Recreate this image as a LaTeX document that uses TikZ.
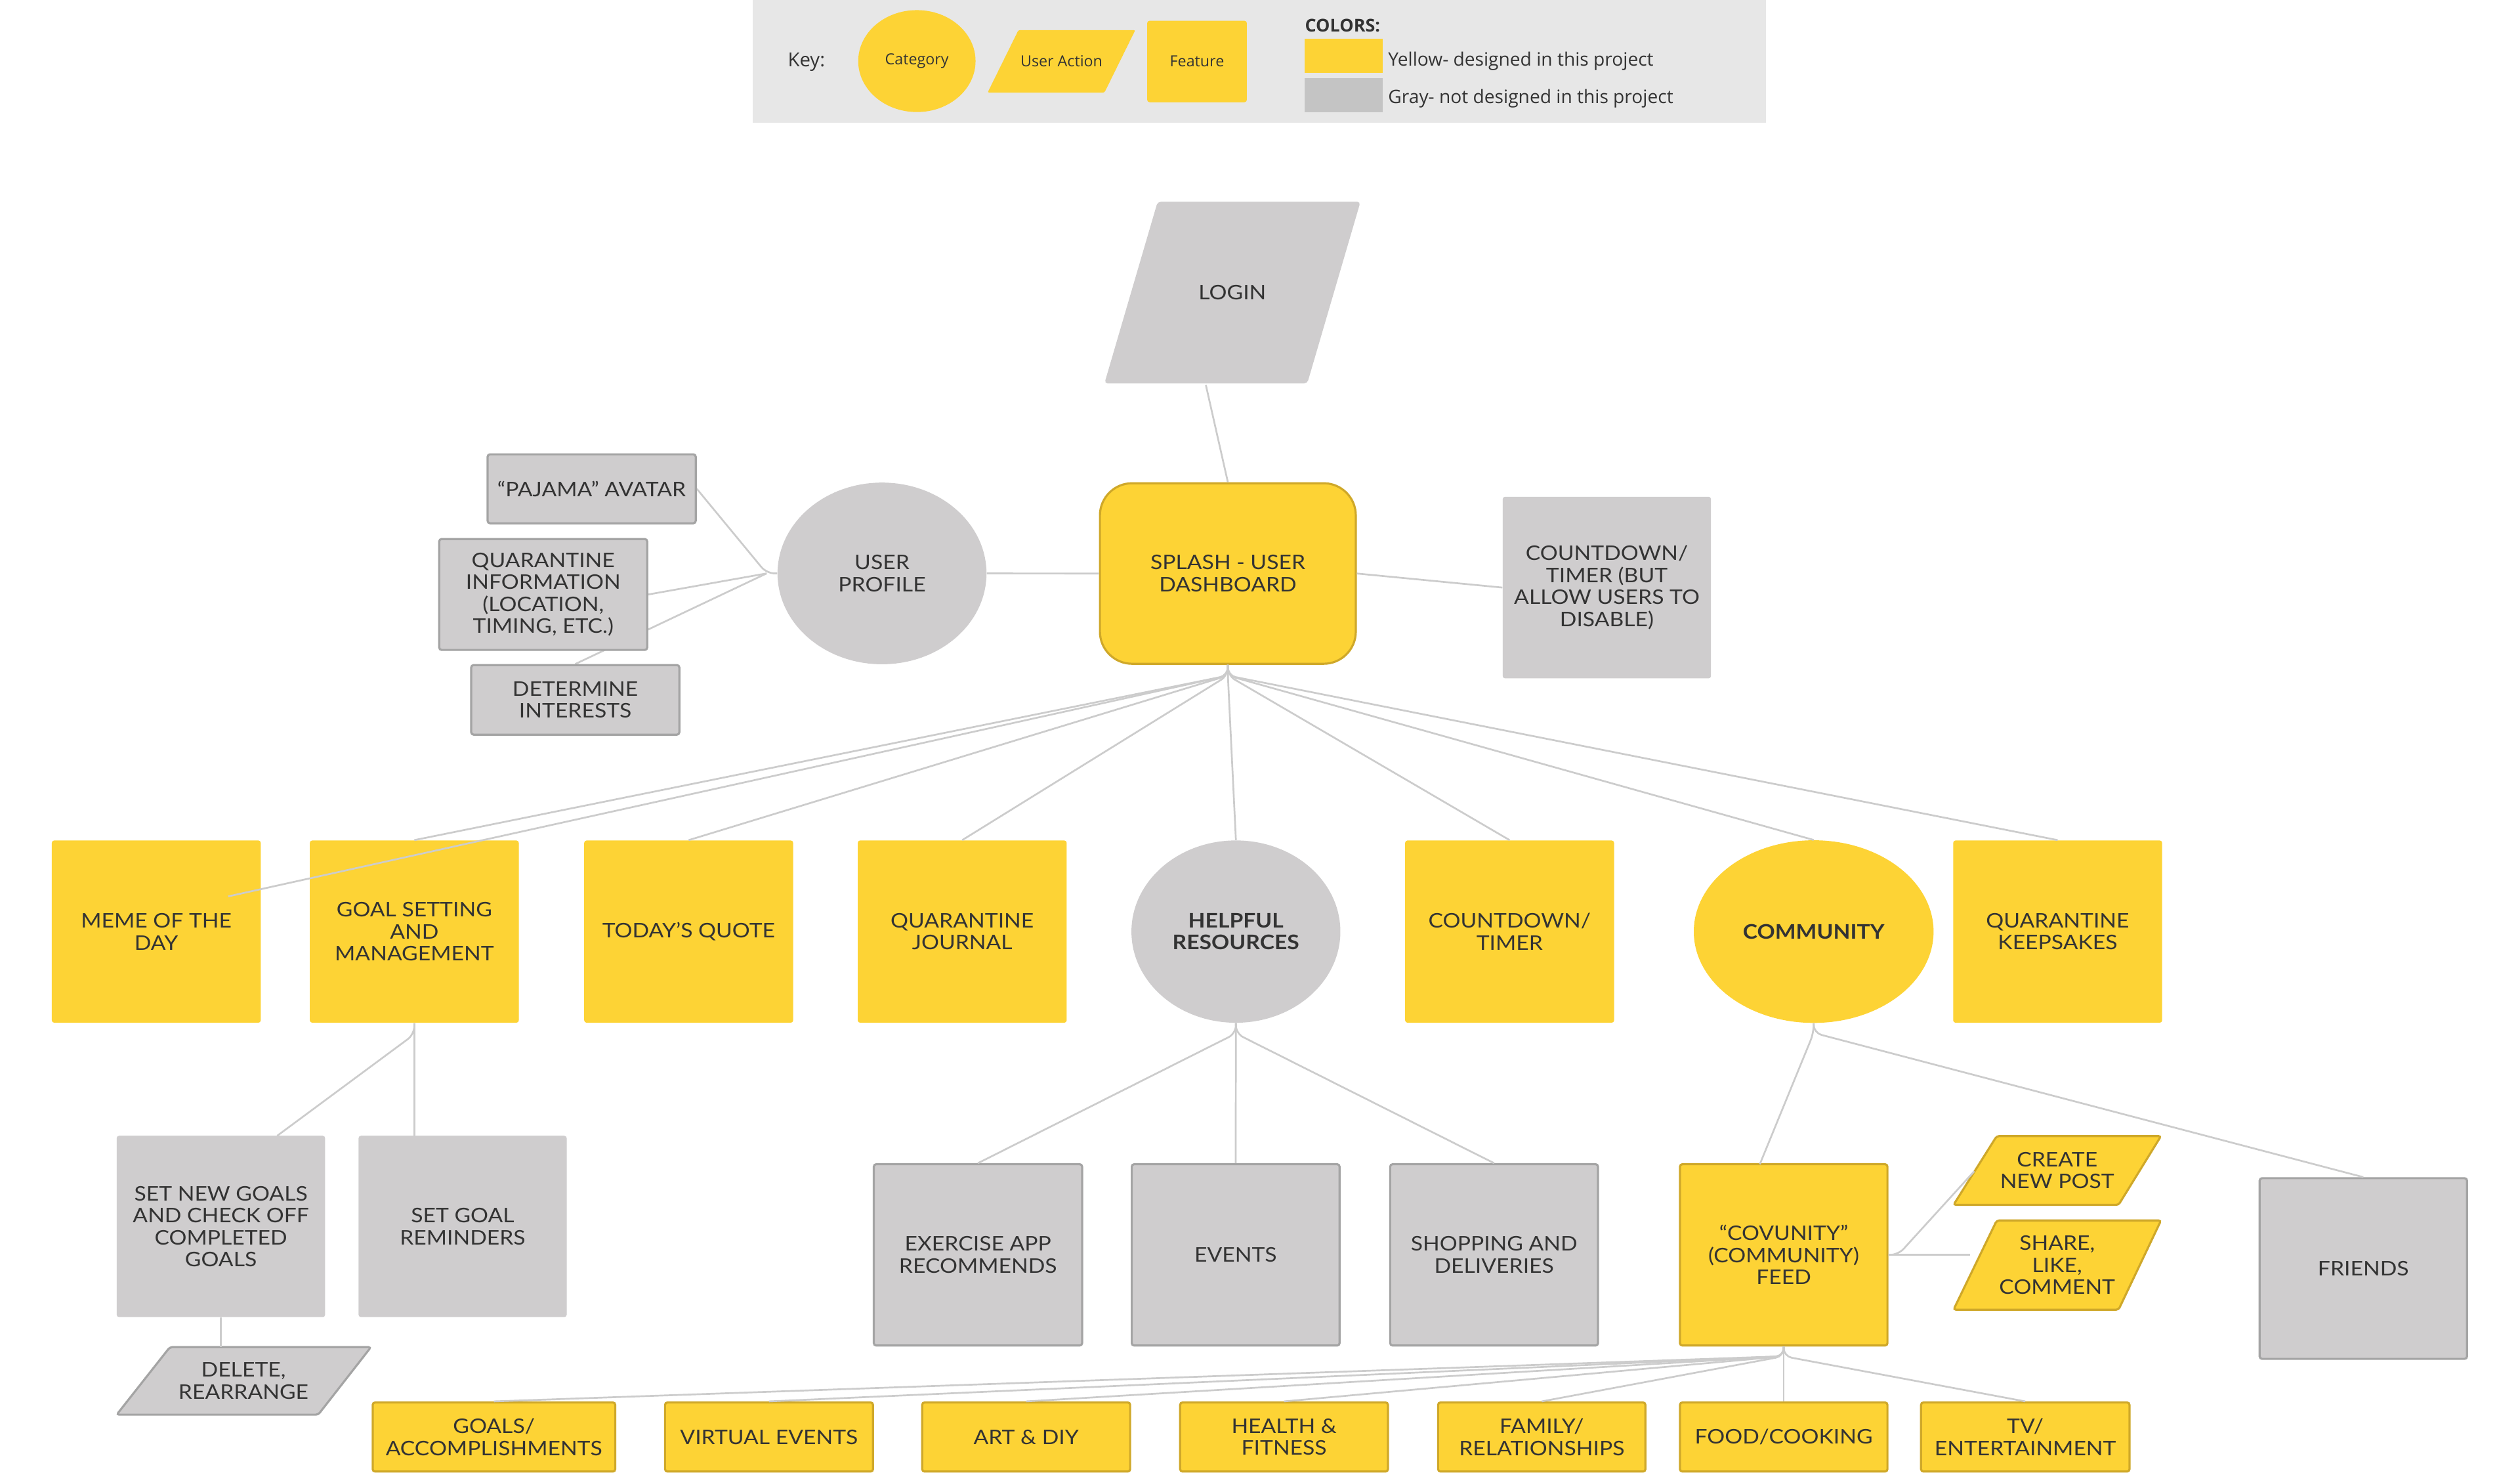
\documentclass[tikz,border=0pt]{standalone}
\usepackage{fontspec}
\setmainfont{Lato}[FakeStretch=1.1]
\newfontfamily\keyfont{Open Sans}
\usetikzlibrary{backgrounds,shapes.geometric}
\definecolor{ylw}{HTML}{FDD335}
\definecolor{ylwb}{HTML}{CFA829}
\definecolor{gry}{HTML}{CFCDCE}
\definecolor{gryb}{HTML}{A4A4A4}
\definecolor{keybg}{HTML}{E7E7E7}
\definecolor{swg}{HTML}{C4C4C4}
\definecolor{txt}{HTML}{333333}
\definecolor{ln}{HTML}{CCCCCC}
\begin{document}
\begin{tikzpicture}[x=1pt,y=-1pt,
  lbl/.style={text=txt, align=center, font=\fontsize{12.5}{13.7}\selectfont, inner sep=0pt},
  bld/.style={font=\fontsize{12.5}{13.7}\selectfont\bfseries},
  sz/.style 2 args={minimum width=#1, minimum height=#2},
  gbox/.style={lbl, fill=gry, draw=gryb, line width=1.3pt, rounded corners=1.5pt},
  gboxn/.style={lbl, fill=gry, rounded corners=1.5pt},
  ybox/.style={lbl, fill=ylw, rounded corners=1.5pt},
  yboxb/.style={lbl, fill=ylw, draw=ylwb, line width=1.3pt, rounded corners=1.5pt},
  gell/.style={lbl, ellipse, fill=gry},
  yell/.style={lbl, ellipse, fill=ylw},
  conn/.style={draw=ln, line width=1.1pt, rounded corners=5pt},
  klbl/.style={text=txt, inner sep=0pt, font=\keyfont\fontsize{9.5}{11}\selectfont},
  ktxt/.style={text=txt, inner sep=0pt, anchor=west, font=\keyfont\fontsize{11.5}{13}\selectfont}
]
\useasboundingbox (0,0) rectangle (1568,915.9);

% ---------- key ----------
\fill[keybg] (468.3,0) rectangle (1099,76.2);
\node[ktxt, font=\keyfont\fontsize{12}{14}\selectfont] (keylabel) at (490,38.5) {Key:};
\node[klbl, ellipse, fill=ylw, sz={73}{63.4}] (kcat) at (570.5,38) {Category};
\path[fill=ylw, rounded corners=1pt] (614.5,57.6) -- (633.7,18.7) -- (706.4,18.7) -- (687.2,57.6) -- cycle;
\node[klbl] (kact) at (660.5,38.2) {User Action};
\node[klbl, fill=ylw, rounded corners=1.5pt, sz={62}{50.7}] (kfeat) at (744.8,38.25) {Feature};
\node[ktxt, font=\keyfont\bfseries\fontsize{11}{13}\selectfont] (kcolors) at (811.8,16) {COLORS:};
\node[fill=ylw, inner sep=0pt, sz={48.6}{21.1}] (swy) at (836.1,34.75) {};
\node[fill=swg, inner sep=0pt, sz={48.6}{21.2}] (swg) at (836.1,59.2) {};
\node[ktxt] (ty) at (863.6,38.2) {Yellow- designed in this project};
\node[ktxt] (tg) at (863.6,61.5) {Gray- not designed in this project};

% ---------- top part ----------
\path[fill=gry, rounded corners=2pt] (687.2,238.5) -- (720.3,125.5) -- (846.5,125.5) -- (813.4,238.5) -- cycle;
\node[lbl] (login) at (766.8,182) {LOGIN};
\coordinate (loginbot) at (750.3,239.5);

\node[yboxb, rounded corners=20pt, sz={159.2}{112.3}] (splash) at (764,356.75) {SPLASH - USER\\DASHBOARD};
\node[gell, sz={130}{113}] (userprofile) at (548.8,356.7) {USER\\PROFILE};
\node[gboxn, sz={129.6}{113}] (countdownA) at (999.8,365.5) {COUNTDOWN/\\TIMER (BUT\\ALLOW USERS TO\\DISABLE)};

\node[gbox, sz={129.5}{42.9}] (avatar) at (368.15,304.05) {“PAJAMA” AVATAR};
\node[gbox, sz={129.4}{69}] (qinfo) at (338,369.8) {QUARANTINE\\INFORMATION\\(LOCATION,\\TIMING, ETC.)};
\node[gbox, sz={129.5}{43.3}] (determine) at (357.95,435.35) {DETERMINE\\INTERESTS};
\coordinate (upj) at (477,356.7);

% ---------- main row ----------
\node[ybox, sz={130}{113.4}] (meme) at (97.25,579.5) {MEME OF THE\\DAY};
\node[ybox, sz={130}{113.4}] (goal) at (257.8,579.5) {GOAL SETTING\\AND\\MANAGEMENT};
\node[ybox, sz={130}{113.4}] (today) at (428.5,579.5) {TODAY’S QUOTE};
\node[ybox, sz={130}{113.4}] (journal) at (598.7,579.5) {QUARANTINE\\JOURNAL};
\node[gell, bld, sz={130}{113.4}] (helpful) at (769,579.5) {HELPFUL\\RESOURCES};
\node[ybox, sz={130}{113.4}] (countdownB) at (939.3,579.5) {COUNTDOWN/\\TIMER};
\node[yell, bld, sz={149.2}{113.6}] (community) at (1128.5,579.5) {COMMUNITY};
\node[ybox, sz={130}{113.4}] (keepsakes) at (1280.3,579.5) {QUARANTINE\\KEEPSAKES};
\coordinate (memeend) at (142,557.6);

% ---------- lower part ----------
\node[gboxn, sz={129.7}{112.8}] (setnew) at (137.45,762.9) {SET NEW GOALS\\AND CHECK OFF\\COMPLETED\\GOALS};
\node[gboxn, sz={129.5}{112.8}] (setrem) at (287.85,762.9) {SET GOAL\\REMINDERS};
\coordinate (setnewtop) at (172.5,706.5);
\path[fill=gry, draw=gryb, line width=1.3pt, rounded corners=1.5pt] (72.6,880) -- (105.7,838) -- (230.8,838) -- (198,880) -- cycle;
\node[lbl] (delete) at (151.5,859) {DELETE,\\REARRANGE};
\coordinate (deletetop) at (137.45,838);

\node[gbox, sz={129.6}{112.8}] (exercise) at (608.5,780.6) {EXERCISE APP\\RECOMMENDS};
\node[gbox, sz={129.3}{112.8}] (events) at (768.85,780.6) {EVENTS};
\node[gbox, sz={129.3}{112.8}] (shopping) at (929.65,780.6) {SHOPPING AND\\DELIVERIES};

\node[yboxb, sz={129.1}{112.8}] (covunity) at (1109.85,780.6) {“COVUNITY”\\(COMMUNITY)\\FEED};
\coordinate (covtop) at (1095,724.2);
\path[fill=ylw, draw=ylwb, line width=1.3pt, rounded corners=1.5pt] (1215.5,749.5) -- (1242.4,706.7) -- (1344.6,706.7) -- (1318.2,749.5) -- cycle;
\node[lbl] (create) at (1280,728.1) {CREATE\\NEW POST};
\coordinate (createleft) at (1228.4,728.6);
\path[fill=ylw, draw=ylwb, line width=1.3pt, rounded corners=1.5pt] (1215.5,814.7) -- (1242.4,759.2) -- (1344.6,759.2) -- (1318.2,814.7) -- cycle;
\node[lbl] (share) at (1280,787) {SHARE,\\LIKE,\\COMMENT};
\coordinate (shareleft) at (1226,780.6);
\node[gbox, sz={129}{112.4}] (friends) at (1470.5,789.1) {FRIENDS};

% ---------- bottom row ----------
\node[yboxb, sz={150.9}{43}] (goalsacc) at (307.35,893.9) {GOALS/\\ACCOMPLISHMENTS};
\node[yboxb, sz={129.4}{43}] (virtual) at (478.5,893.9) {VIRTUAL EVENTS};
\node[yboxb, sz={129.4}{43}] (art) at (638.5,893.9) {ART \& DIY};
\node[yboxb, sz={129.3}{43}] (health) at (798.95,893.9) {HEALTH \&\\FITNESS};
\node[yboxb, sz={129}{43}] (family) at (959.3,893.9) {FAMILY/\\RELATIONSHIPS};
\node[yboxb, sz={129.1}{43}] (food) at (1109.85,893.9) {FOOD/COOKING};
\node[yboxb, sz={129.7}{43}] (tv) at (1260.15,893.9) {TV/\\ENTERTAINMENT};

% ---------- connectors ----------
\begin{pgfonlayer}{background}
\fill[white] (0,0) rectangle (1568,915.9);
\draw[conn] (userprofile.west) -- (upj) -- (avatar.east);
\draw[conn] (upj) -- (qinfo.east);
\draw[conn] (upj) -- (determine.north);
\end{pgfonlayer}
\draw[conn] (loginbot) -- (splash.north);
\draw[conn] (splash.west) -- (userprofile.east);
\draw[conn] (splash.east) -- (countdownA.west);
\foreach \t in {goal.north, today.north, journal.north, helpful.north, countdownB.north, community.north, keepsakes.north, memeend}
  \draw[conn] (splash.south) -- ++(0,6.7) -- (\t);
\draw[conn] (goal.south) -- (goal.south |- setrem.north);
\draw[conn] (goal.south) -- ++(0,7) -- (setnewtop);
\draw[conn] (setnew.south) -- (deletetop);
\foreach \t in {exercise.north, events.north, shopping.north}
  \draw[conn] (helpful.south) -- ++(0,6.5) -- (\t);
\draw[conn] (community.south) -- ++(0,6) -- (covtop);
\draw[conn] (community.south) -- ++(0,6) -- (friends.north);
\draw[conn] (covunity.east) -- (shareleft);
\draw[conn] (covunity.east) -- ++(6,0) -- (createleft);
\foreach \t in {goalsacc.north, virtual.north, art.north, health.north, family.north, food.north, tv.north}
  \draw[conn] (covunity.south) -- ++(0,6) -- (\t);
\end{tikzpicture}
\end{document}
